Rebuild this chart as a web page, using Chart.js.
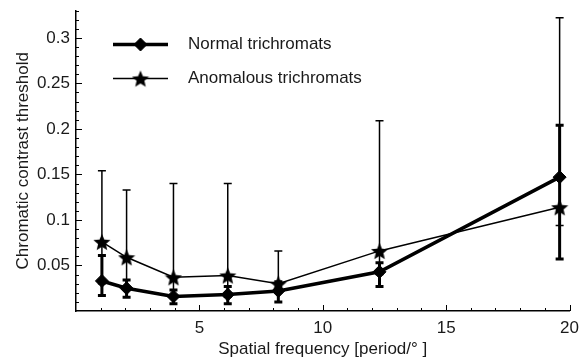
<!DOCTYPE html>
<html>
<head>
<meta charset="utf-8">
<script src="https://cdn.jsdelivr.net/npm/chart.js@4.4.1/dist/chart.umd.min.js"></script>
<style>
  html, body { margin: 0; padding: 0; background: #fff; }
</style>
</head>
<body>
<canvas id="chart" width="580" height="361"></canvas>
<script>
// spatial frequency of each test (period/deg)
const frequencies = [1.05, 2.05, 3.95, 6.15, 8.2, 12.3, 19.6];

// normal trichromats: threshold and error bar ends
const normalMean  = [0.033, 0.025, 0.016, 0.018, 0.022, 0.043, 0.147];
const normalUpper = [0.061, 0.034, 0.023, 0.027, 0.032, 0.053, 0.204];
const normalLower = [0.017, 0.015, 0.008, 0.008, 0.010, 0.027, 0.057];

// anomalous trichromats: threshold and error bar ends
const anomalousMean  = [0.076, 0.059, 0.037, 0.039, 0.030, 0.066, 0.114];
const anomalousUpper = [0.154, 0.133, 0.140, 0.140, 0.066, 0.209, 0.322];
const anomalousLower = [0.030, 0.025, 0.015, 0.015, 0.020, 0.040, 0.094];

const seriesNames = ["Normal trichromats", "Anomalous trichromats"];
const xTicks = [5, 10, 15, 20];
const yTicks = [0.05, 0.1, 0.15, 0.2, 0.25, 0.3];

const textColor = "#1a1a1a";
const fontFamily = "'Liberation Sans', Arial, Helvetica, sans-serif";

// filled five-point star used as marker
function makeStar(size) {
    const c = document.createElement("canvas");
    c.width = size;
    c.height = size;
    const g = c.getContext("2d");
    const R = size / 2, r = R * 0.45;
    g.beginPath();
    for (let i = 0; i < 10; i++) {
        const rad = i % 2 === 0 ? R : r;
        const a = -Math.PI / 2 + i * Math.PI / 5;
        g.lineTo(size / 2 + rad * Math.cos(a), size / 2 + 1 + rad * Math.sin(a));
    }
    g.closePath();
    g.fillStyle = "#000";
    g.fill();
    return c;
}
const starImg = makeStar(18);

// vertical error bars with caps
const errorBars = {
    id: "errorBars",
    beforeDatasetsDraw(chart) {
        const { ctx, scales: { x, y } } = chart;
        const groups = [
            { lo: normalLower, hi: normalUpper, width: 3 },
            { lo: anomalousLower, hi: anomalousUpper, width: 1.5 },
        ];
        ctx.save();
        ctx.strokeStyle = "#000";
        groups.forEach(g => {
            ctx.lineWidth = g.width;
            frequencies.forEach((f, i) => {
                const px = x.getPixelForValue(f);
                const top = y.getPixelForValue(g.hi[i]);
                const bot = y.getPixelForValue(g.lo[i]);
                ctx.beginPath();
                ctx.moveTo(px, top);
                ctx.lineTo(px, bot);
                ctx.moveTo(px - 4, top);
                ctx.lineTo(px + 4, top);
                ctx.moveTo(px - 4, bot);
                ctx.lineTo(px + 4, bot);
                ctx.stroke();
            });
        });
        ctx.restore();
    }
};

// small tick marks pointing into the plot
const innerTicks = {
    id: "innerTicks",
    afterDraw(chart) {
        const { ctx, chartArea: a, scales: { x, y } } = chart;
        ctx.save();
        ctx.strokeStyle = "#000";
        ctx.lineWidth = 1;
        for (let v = 1; v <= 20; v++) {
            const px = Math.round(x.getPixelForValue(v)) + 0.5;
            const len = v % 5 === 0 ? 6 : 3;
            ctx.beginPath();
            ctx.moveTo(px, a.bottom);
            ctx.lineTo(px, a.bottom - len);
            ctx.stroke();
        }
        for (let k = 1; k <= 33; k++) {
            const py = Math.round(y.getPixelForValue(k / 100)) + 0.5;
            const len = k % 5 === 0 ? 6 : 3;
            ctx.beginPath();
            ctx.moveTo(a.left, py);
            ctx.lineTo(a.left + len, py);
            ctx.stroke();
        }
        ctx.restore();
    }
};

// legend drawn as line + marker like the original
const lineLegend = {
    id: "lineLegend",
    afterDraw(chart) {
        const { ctx, chartArea: a } = chart;
        const rows = [
            { y: a.top + 34, width: 3.5, style: "rectRot", radius: 6.5 },
            { y: a.top + 68, width: 1.5, style: starImg, radius: 9 },
        ];
        ctx.save();
        rows.forEach((row, i) => {
            ctx.strokeStyle = "#000";
            ctx.fillStyle = "#000";
            ctx.lineWidth = row.width;
            ctx.beginPath();
            ctx.moveTo(a.left + 37, row.y);
            ctx.lineTo(a.left + 92, row.y);
            ctx.stroke();
            ctx.lineWidth = 1;
            Chart.helpers.drawPoint(ctx, { pointStyle: row.style, radius: row.radius, rotation: 0, borderWidth: 1 }, a.left + 64.5, row.y);
            ctx.fillStyle = textColor;
            ctx.font = "17px " + fontFamily;
            ctx.textBaseline = "middle";
            ctx.textAlign = "left";
            ctx.fillText(seriesNames[i], a.left + 112, row.y);
        });
        ctx.restore();
    }
};

const ctx = document.getElementById("chart").getContext("2d");

new Chart(ctx, {
    type: "line",
    data: {
        datasets: [
            {
                label: seriesNames[0],
                data: frequencies.map((f, i) => ({ x: f, y: normalMean[i] })),
                borderColor: "#000",
                backgroundColor: "#000",
                borderWidth: 3.5,
                pointStyle: "rectRot",
                pointRadius: 6.5,
                pointBorderWidth: 1,
                tension: 0,
            },
            {
                label: seriesNames[1],
                data: frequencies.map((f, i) => ({ x: f, y: anomalousMean[i] })),
                borderColor: "#000",
                backgroundColor: "#000",
                borderWidth: 1.5,
                pointStyle: starImg,
                pointRadius: 9,
                tension: 0,
            },
        ],
    },
    options: {
        responsive: false,
        animation: false,
        devicePixelRatio: 1,
        layout: { padding: { top: 10, right: 5, left: 0, bottom: 0 } },
        plugins: {
            legend: { display: false },
            tooltip: { enabled: false },
        },
        scales: {
            x: {
                type: "linear",
                min: 0,
                max: 20,
                afterBuildTicks: s => { s.ticks = xTicks.map(v => ({ value: v })); },
                afterFit: s => { s.height = 50; s.paddingLeft = 0; s.paddingRight = 0; },
                grid: { display: false, drawTicks: false },
                border: { display: true, color: "#000", width: 1.5 },
                ticks: {
                    padding: 7,
                    color: textColor,
                    font: { family: fontFamily, size: 17 },
                    maxRotation: 0,
                    autoSkip: false,
                    callback: v => String(v),
                },
                title: {
                    display: true,
                    text: "Spatial frequency [period/° ]",
                    color: textColor,
                    font: { family: fontFamily, size: 17 },
                    padding: { top: 1, bottom: 1 },
                },
            },
            y: {
                type: "linear",
                min: 0,
                max: 0.33,
                afterBuildTicks: s => { s.ticks = yTicks.map(v => ({ value: v })); },
                afterFit: s => { s.width = 76; s.paddingTop = 0; s.paddingBottom = 0; },
                grid: { display: false, drawTicks: false },
                border: { display: true, color: "#000", width: 1.5 },
                ticks: {
                    padding: 6,
                    color: textColor,
                    font: { family: fontFamily, size: 17 },
                    autoSkip: false,
                    callback: v => String(v),
                },
                title: {
                    display: true,
                    text: "Chromatic contrast threshold",
                    color: textColor,
                    font: { family: fontFamily, size: 17 },
                    padding: { top: 13, bottom: 0 },
                },
            },
        },
    },
    plugins: [errorBars, innerTicks, lineLegend],
});
</script>
</body>
</html>
